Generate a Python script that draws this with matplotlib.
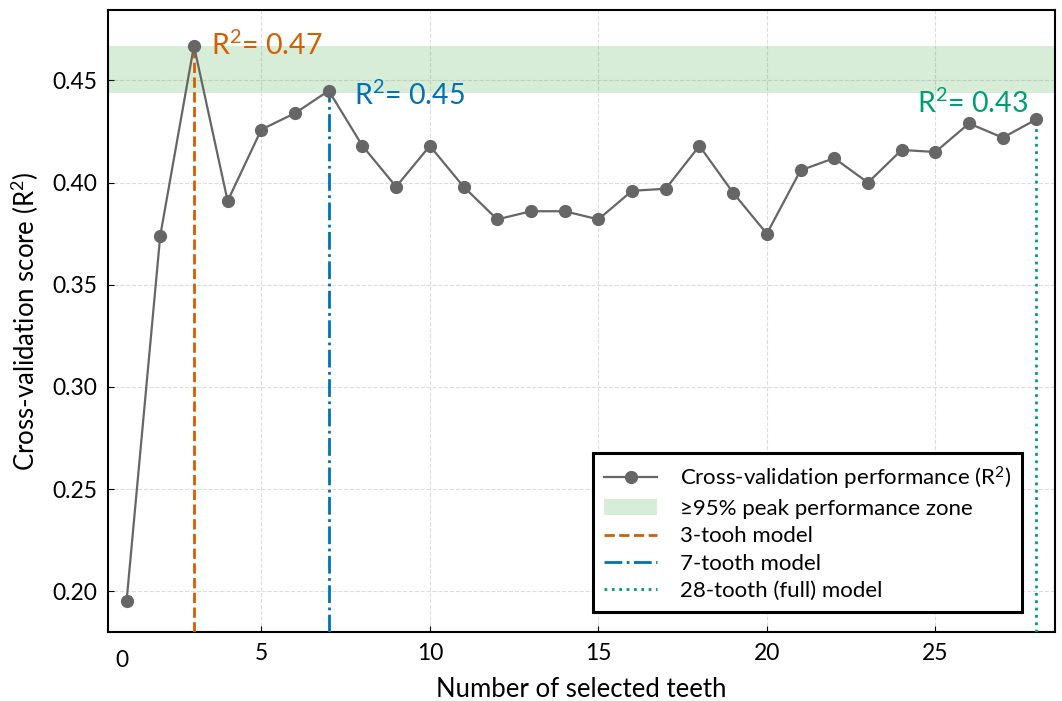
import numpy as np
import matplotlib
matplotlib.use('Agg')
import matplotlib.pyplot as plt
from matplotlib.transforms import blended_transform_factory

# Cross-validation R^2 vs number of selected teeth
n_teeth = list(range(1, 29))
cv_scores = [0.195, 0.374, 0.467, 0.391, 0.426, 0.434, 0.445, 0.418,
             0.398, 0.418, 0.398, 0.382, 0.386, 0.386, 0.382, 0.396,
             0.397, 0.418, 0.395, 0.375, 0.406, 0.412, 0.400, 0.416,
             0.415, 0.429, 0.422, 0.431]

# Highlighted models
models = [3, 7, 28]
model_labels = ['3-tooh model', '7-tooth model', '28-tooth (full) model']
model_colors = ['#D55E00', '#0072B2', '#009E73']
model_styles = ['--', '-.', ':']
annot_text = ['R$^2$= 0.47', 'R$^2$= 0.45', 'R$^2$= 0.43']

xtick_vals = [5, 10, 15, 20, 25]

plt.rcParams['font.family'] = ['Lato', 'DejaVu Sans']
plt.rcParams['mathtext.fontset'] = 'custom'
plt.rcParams['mathtext.rm'] = 'Lato'
plt.rcParams['mathtext.default'] = 'regular'

fig = plt.figure(figsize=(10.62, 7.01), dpi=100)
ax = fig.add_axes([0.1017, 0.0984, 0.8917, 0.8873])

ymin, ymax = 0.18, 0.4845
peak = max(cv_scores)

# Peak performance zone
band = ax.axhspan(0.95 * peak, peak, color='#2ca02c', alpha=0.19, lw=0,
                  label='\u226595% peak performance zone', zorder=1)

line, = ax.plot(n_teeth, cv_scores, '-o', color='#666666', lw=1.6, ms=8.5,
                label='Cross-validation performance (R$^2$)', zorder=4)

handles = [line, band]
for m, lab, c, ls in zip(models, model_labels, model_colors, model_styles):
    yv = cv_scores[m - 1]
    h = ax.vlines(m, ymin, yv, colors=c, linestyles=ls, lw=2, label=lab, zorder=3)
    handles.append(h)

# Annotations
ax.text(3.5, cv_scores[2], annot_text[0], color=model_colors[0],
        fontsize=20.5, va='center', ha='left')
ax.text(7.75, cv_scores[6] - 0.0025, annot_text[1], color=model_colors[1],
        fontsize=20.5, va='center', ha='left')
ax.text(27.75, cv_scores[27] + 0.008, annot_text[2], color=model_colors[2],
        fontsize=20.5, va='center', ha='right')

ax.set_xlim(0.45, 28.55)
ax.set_ylim(ymin, ymax)
ax.set_xticks(xtick_vals)
ax.set_yticks([0.20, 0.25, 0.30, 0.35, 0.40, 0.45])
ax.set_yticklabels(['0.20', '0.25', '0.30', '0.35', '0.40', '0.45'])
ax.tick_params(direction='in', labelsize=16.5, length=4, pad=8)

# stray "0" label at the left of the x axis
trans = blended_transform_factory(ax.transData, ax.transAxes)
ax.text(0.86, -0.045, '0', transform=trans, fontsize=16.5, ha='center', va='center')

ax.grid(True, ls='--', color='#dddddd', lw=0.8)
ax.set_axisbelow(True)
for s in ax.spines.values():
    s.set_linewidth(1.5)
    s.set_color('black')

ax.set_xlabel('Number of selected teeth', fontsize=18.5, labelpad=9)
ax.set_ylabel('Cross-validation score (R$^2$)', fontsize=18.5, labelpad=8)

leg = ax.legend(handles=handles, loc='lower right', fontsize=16, fancybox=False,
                framealpha=1, edgecolor='black', borderpad=0.5, labelspacing=0.33,
                handlelength=2.4, handletextpad=1.0, borderaxespad=0,
                bbox_to_anchor=(0.965, 0.032))
leg.get_frame().set_linewidth(2.2)

fig.savefig('out.png', dpi=100)
